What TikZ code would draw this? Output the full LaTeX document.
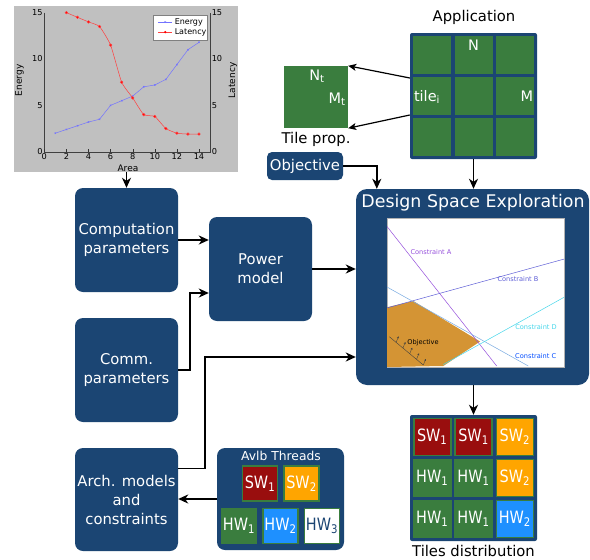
\documentclass[tikz,border=0pt]{standalone}
\usepackage{fontspec}
\setmainfont{DejaVu Sans}
\newfontfamily\cellfont[FakeStretch=0.85]{DejaVu Sans}
\usetikzlibrary{arrows.meta,calc}

\definecolor{dseblue}{RGB}{27,69,115}
\definecolor{tilegreen}{RGB}{58,125,62}
\definecolor{swred}{RGB}{153,14,14}
\definecolor{swamber}{RGB}{255,165,0}
\definecolor{hwblue}{RGB}{30,144,255}
\definecolor{plotgray}{RGB}{192,192,192}
\definecolor{sandfill}{RGB}{212,148,52}
\definecolor{conA}{RGB}{150,80,220}
\definecolor{conB}{RGB}{95,95,215}
\definecolor{conC}{RGB}{120,170,225}
\definecolor{conD}{RGB}{70,215,235}

\newcommand{\wlab}[2]{#1\textsubscript{#2}}

\tikzset{
  blockbox/.style={fill=dseblue, rounded corners=8pt, text=white, align=center,
    font=\fontsize{14.8}{19}\selectfont, inner sep=0pt},
  arr/.style={-{Stealth[length=10pt,width=9pt,inset=3pt]}, line width=1.5pt},
  appcell/.style={fill=tilegreen, minimum width=38pt, minimum height=38pt, inner sep=0pt},
  threadbox/.style={draw=tilegreen, line width=1.6pt, minimum width=35pt, minimum height=35pt,
    inner sep=0pt, text=white, font=\cellfont\fontsize{17}{17}\selectfont},
  celltext/.style={text=white, font=\fontsize{14.5}{15}\selectfont, inner sep=0pt},
  dselabel/.style={font=\fontsize{6.6}{7}\selectfont, inner sep=0pt},
}

\begin{document}
\begin{tikzpicture}[x=1pt,y=-1pt]
\useasboundingbox (0,0) rectangle (590,560);

%CHART
\node (chart) [fill=plotgray, minimum width=224pt, minimum height=166pt, inner sep=0pt] at (126,89) {};
\begin{scope}[shift={(44.3,151.7)}, x=11.05pt, y=9.27pt, font=\fontsize{8.2}{9}\selectfont]
% axes
\draw[gray!50!black, line width=0.3pt] (0,15) -- (0,0) -- (15,0) -- (15,15);
\foreach \t in {0,2,...,14} {
  \draw[gray!40!black, line width=0.3pt] (\t,0) -- (\t,0.25);
  \node (xt\t) [below, inner sep=1.5pt] at (\t,0) {\t};
}
\foreach \t in {0,5,10,15} {
  \node (yl\t) [left, inner sep=1.5pt] at (0,\t) {\t};
  \node (yr\t) [right, inner sep=1.5pt] at (15,\t) {\t};
}
\node (xlabel) [font=\fontsize{9}{10}\selectfont] at (7.57,-1.76) {Area};
\node (ylabel) [rotate=90, font=\fontsize{9}{10}\selectfont] at (-2.25,7.7) {Energy};
\node (y2label) [rotate=90, font=\fontsize{9}{10}\selectfont] at (17.05,7.7) {Latency};
% energy
\draw[blue!55, line width=0.5pt, mark=x, mark size=1pt] plot coordinates {(1,2) (2,2.4) (3,2.8) (4,3.2) (5,3.5) (6,5) (7,5.5) (8,6) (9,7) (10,7.2) (11,7.8) (12,9.4) (13,11) (14,11.8)};
% latency
\draw[red!75, line width=0.5pt, smooth, tension=0.3, mark=*, mark size=1.3pt, mark options={fill=red}] plot coordinates {(2,15) (3,14.5) (4,14) (5,13.5) (6,11.5) (7,7.5) (8,5.8) (9,4) (10,3.8) (11,2.5) (12,2) (13,1.9) (14,1.9)};
% legend
\draw[fill=white, draw=gray, line width=0.3pt] (9.84,14.75) rectangle (14.72,12.05);
\draw[blue!55, line width=0.5pt] (10.3,13.98) -- (11.6,13.98);
\draw[blue!55, line width=0.5pt] plot[mark=x, mark size=1pt] coordinates {(10.95,13.98)};
\node (legE) [right, inner sep=1pt, font=\fontsize{8}{9}\selectfont] at (11.7,13.98) {Energy};
\draw[red!75, line width=0.5pt] (10.3,12.9) -- (11.6,12.9);
\fill[red] (10.95,12.9) circle (1.3pt);
\node (legL) [right, inner sep=1pt, font=\fontsize{8}{9}\selectfont] at (11.7,12.9) {Latency};
\end{scope}

%BLOCKS
\node (comp) [blockbox, minimum width=103pt, minimum height=104pt] at (126.5,240) {Computation\\parameters};
\node (power) [blockbox, minimum width=103pt, minimum height=104pt] at (260.5,269) {Power\\model};
\node (comm) [blockbox, minimum width=103pt, minimum height=104pt] at (126.5,370) {Comm.\\parameters};
\node (arch) [blockbox, minimum width=103pt, minimum height=103pt] at (126.5,499.5) {Arch. models\\and\\constraints};
\node (obj) [blockbox, rounded corners=5pt, minimum width=76pt, minimum height=28pt] at (305,166) {Objective};

%DSE
\node (dse) [fill=dseblue, rounded corners=11pt, minimum width=233pt, minimum height=196pt, inner sep=0pt] at (472.5,287) {};
\node (dsetitle) [text=white, font=\fontsize{17.4}{20}\selectfont] at (473,203) {Design Space Exploration};
\node (dseplot) [fill=white, draw=gray!60, line width=0.3pt, minimum width=177pt, minimum height=149pt, inner sep=0pt] at (475.5,292.5) {};
\begin{scope}
\clip (387,218) rectangle (564,367);
\fill[sandfill] (387,307.3) -- (413.3,301) -- (480,341.5) -- (443.3,366) -- (387,367) -- cycle;
\draw[conA, line width=0.5pt] (387,226.5) -- (496.7,366);
\draw[conB, line width=0.5pt] (387,307.9) -- (564,259.1);
\draw[conC, line width=0.5pt] (387,287) -- (528.3,366);
\draw[conD, line width=0.5pt] (443.3,364.5) -- (564,297.3);
% objective
\draw[black!75, line width=0.4pt] (389.3,336.7) -- (423.3,365);
\foreach \t in {0.2,0.4,0.6,0.8,1.0}
  \draw[black!75, line width=0.35pt, -{Stealth[length=2pt,width=2pt]}] ($(389.3,336.7)!\t!(423.3,365)$) -- ++(2.5,-6);
\end{scope}
\node (labA) [dselabel, text=conA] at (431,251.7) {Constraint A};
\node (labB) [dselabel, text=conB] at (518,279) {Constraint B};
\node (labC) [dselabel, text=blue!70!cyan] at (535.7,356) {Constraint C};
\node (labD) [dselabel, text=conD] at (536,326.7) {Constraint D};
\node (labO) [dselabel] at (423,342.3) {Objective};

%APPLICATION
\node (app) [fill=dseblue, rounded corners=2pt, minimum width=127pt, minimum height=126pt, inner sep=0pt] at (473.5,96) {};
\foreach \r/\y in {1/55,2/96,3/137}
  \foreach \c/\x in {1/432.2,2/473.5,3/514.8}
    \node (app\r\c) [appcell] at (\x,\y) {};
\node (applabel) [font=\fontsize{14.8}{16}\selectfont] at (474,17) {Application};
\node (nlabel) [celltext] at (473.5,45) {N};
\node (tilelabel) [celltext] at (427,97) {tile\textsubscript{i}};
\node (mlabel) [celltext] at (527,96) {M};

%TILE PROP
\node (tprop) [fill=tilegreen, minimum width=64pt, minimum height=62pt, inner sep=0pt] at (316,97) {};
\node (ntlabel) [celltext] at (317,76) {N\textsubscript{t}};
\node (mtlabel) [celltext] at (337,99) {M\textsubscript{t}};
\node (tproplabel) [font=\fontsize{14.8}{16}\selectfont] at (316,139) {Tile prop.};

%THREADS
\node (threads) [fill=dseblue, rounded corners=8pt, minimum width=127pt, minimum height=102pt, inner sep=0pt] at (280.5,499) {};
\node (thtitle) [text=white, font=\fontsize{12.3}{13}\selectfont] at (281,456) {Avlb Threads};
\node (thsw1) [threadbox, fill=swred] at (260,483.5) {\wlab{SW}{1}};
\node (thsw2) [threadbox, fill=swamber] at (301.5,483.5) {\wlab{SW}{2}};
\node (thhw1) [threadbox, fill=tilegreen] at (239,526) {\wlab{HW}{1}};
\node (thhw2) [threadbox, fill=hwblue] at (280.5,526) {\wlab{HW}{2}};
\node (thhw3) [threadbox, fill=white, text=dseblue] at (322,526) {\wlab{HW}{3}};

%TILES DISTRIBUTION
\node (dist) [fill=dseblue, rounded corners=2pt, minimum width=127pt, minimum height=126pt, inner sep=0pt] at (473.5,478) {};
\foreach \x/\y/\col/\kind/\k [count=\i] in {
  432.2/437/swred/SW/1, 473.5/437/swred/SW/1, 514.8/437/swamber/SW/2,
  432.2/478/tilegreen/HW/1, 473.5/478/tilegreen/HW/1, 514.8/478/swamber/SW/2,
  432.2/519/tilegreen/HW/1, 473.5/519/tilegreen/HW/1, 514.8/519/hwblue/HW/2}
  \node (dist\i) [threadbox, fill=\col, minimum width=37pt, minimum height=37pt] at (\x,\y) {\wlab{\kind}{\k}};
\node (distlabel) [font=\fontsize{14.8}{16}\selectfont] at (473.5,551) {Tiles distribution};

%ARROWS
\draw[arr] (comp.north |- chart.south) -- (comp.north);
\draw[arr] (comp.east) -- (comp.east -| power.west);
\draw[arr] (comm.east) -- ++(12,0) |- ([yshift=-24pt]power.west);
\draw[arr] (power.east) -- (power.east -| dse.west);
\draw[arr] ([yshift=31pt]arch.east) -- ++(27,0) |- ([yshift=-70pt]dse.west);
\draw[arr] (threads.west) -- (threads.west -| arch.east);
\draw[arr] (obj.east) -| ([xshift=21pt]dse.north west);
\draw[arr] (app.south) -- (app.south |- dse.north);
\draw[arr] (dse.south -| dist.north) -- (dist.north);
\draw[-{Stealth[length=8pt,width=7pt,inset=2pt]}, line width=1.2pt] ([yshift=18pt]app.west) -- (tprop.north east);
\draw[-{Stealth[length=8pt,width=7pt,inset=2pt]}, line width=1.2pt] ([yshift=-19pt]app.west) -- (tprop.south east);

\end{tikzpicture}
\end{document}
